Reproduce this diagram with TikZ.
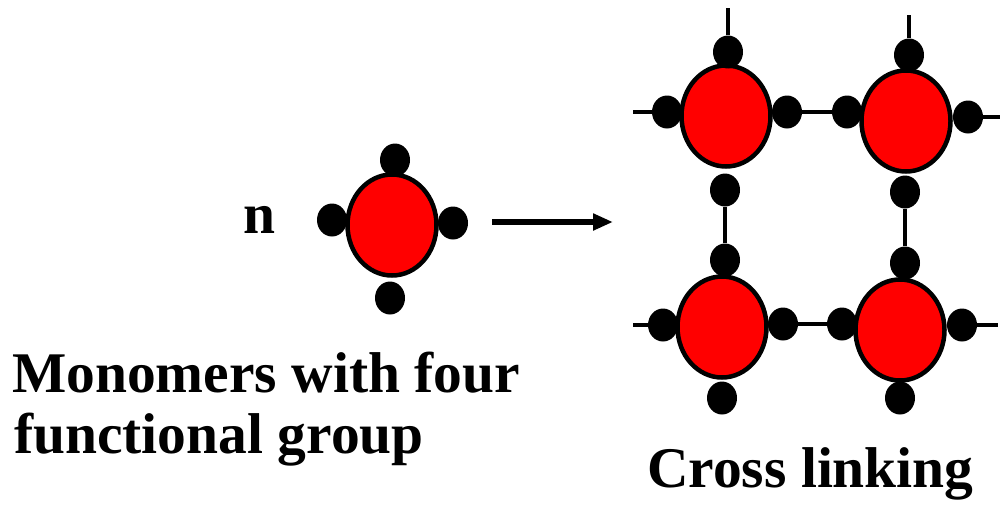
\documentclass[tikz,border=0pt]{standalone}
\usepackage{fontspec}
\setmainfont{Liberation Serif}
\usetikzlibrary{shapes.geometric,arrows.meta}
\begin{document}
\begin{tikzpicture}[x=1pt,y=-1pt,
 unit/.style={ellipse,draw=black,fill=red,line width=4.5pt,minimum width=89pt,minimum height=101pt,inner sep=0pt},
 grp/.style={ellipse,fill=black,minimum width=30pt,minimum height=33pt,inner sep=0pt},
 bond/.style={line width=3.6pt},
 lbl/.style={font=\fontsize{57.5}{61}\selectfont\bfseries,inner sep=0pt,anchor=base west}]
\useasboundingbox (0,0) rectangle (1008,506);
% labels
\node[lbl] (n) at (243,233) {n};
\node[lbl] (l1) at (12,392) {Monomers with four};
\node[lbl] (l2) at (14,453) {functional group};
\node[lbl] (l3) at (647,487) {Cross linking};
% monomer
\node[unit] (m) at (392,225) {};
\node[grp] (mt) at (395,160) {};
\node[grp] (ml) at (332,220) {};
\node[grp] (mr) at (453,223) {};
\node[grp] (mb) at (390,298) {};
% arrow
\coordinate (a1) at (492,222);
\coordinate (a2) at (613,222);
\draw[line width=6pt,-{Triangle[length=20pt,width=16pt]}] (a1) -- (a2);
% network units
\node[unit] (tl) at (726,116) {};
\node[unit] (tr) at (906,121) {};
\node[unit] (bl) at (722,327) {};
\node[unit] (br) at (900,330) {};
% groups
\node[grp] (tlt) at (728,52) {};
\node[grp] (tll) at (667,112) {};
\node[grp] (tlr) at (787,112) {};
\node[grp] (tlb) at (725,190) {};
\node[grp] (trt) at (909,55) {};
\node[grp] (trl) at (847,112) {};
\node[grp] (trr) at (968,117) {};
\node[grp] (trb) at (905,192) {};
\node[grp] (blt) at (725,260) {};
\node[grp] (bll) at (663,325) {};
\node[grp] (blr) at (783,324) {};
\node[grp] (blb) at (722,398) {};
\node[grp] (brt) at (905,263) {};
\node[grp] (brl) at (842,324) {};
\node[grp] (brr) at (962,325) {};
\node[grp] (brb) at (900,398) {};
% free ends
\coordinate (eTL) at (728,8);
\coordinate (eTR) at (909,15);
\coordinate (eL1) at (633,112);
\coordinate (eR1) at (1000,117);
\coordinate (eL2) at (633,325);
\coordinate (eR2) at (998,325);
% bonds
\draw[bond] (eTL) -- (tlt);
\draw[bond] (eTR) -- (trt);
\draw[bond] (eL1) -- (tll);
\draw[bond] (trr) -- (eR1);
\draw[bond] (eL2) -- (bll);
\draw[bond] (brr) -- (eR2);
\draw[bond] (tlr) -- (trl);
\draw[bond] (blr) -- (brl);
\draw[bond] (tlb) -- (blt);
\draw[bond] (trb) -- (brt);
\end{tikzpicture}
\end{document}
